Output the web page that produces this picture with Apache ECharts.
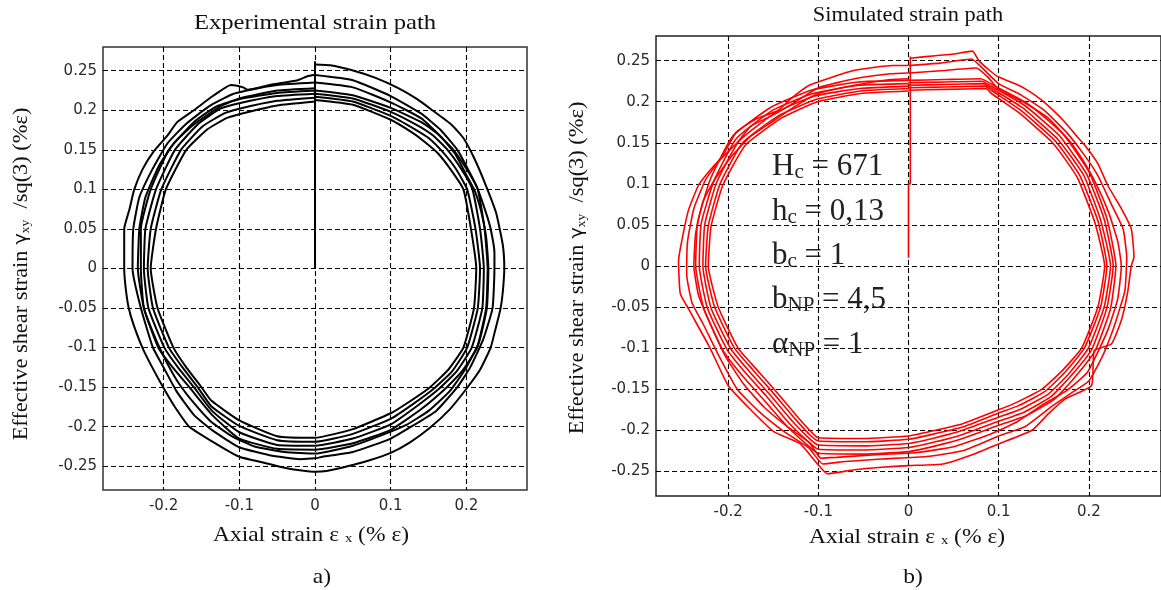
<!DOCTYPE html>
<html>
<head>
<meta charset="utf-8">
<script src="https://cdn.jsdelivr.net/npm/echarts@6/dist/echarts.min.js"></script>
<style>
  html, body { margin: 0; padding: 0; background: #fff; }
  #chart { width: 1161px; height: 590px; }
</style>
</head>
<body>
<div id="chart"></div>
<script>
// tick values (both panels)
const xTicks = [-0.2, -0.1, 0, 0.1, 0.2]
const yTicks = [-0.25, -0.2, -0.15, -0.1, -0.05, 0, 0.05, 0.1, 0.15, 0.2, 0.25]

// a) experimental strain path (x = axial, y = shear)
const expStem = [[0, 0], [0, 0.262]]
const expLoop1 = [[0,0.258],[0.02,0.257],[0.048,0.251],[0.08,0.241],[0.11,0.228],[0.135,0.214],[0.155,0.2],[0.18,0.182],[0.196,0.165],[0.21,0.14],[0.224,0.109],[0.239,0.071],[0.248,0.03],[0.25,0],[0.248,-0.03],[0.245,-0.051],[0.238,-0.078],[0.232,-0.1],[0.218,-0.128],[0.2,-0.152],[0.178,-0.178],[0.151,-0.202],[0.125,-0.22],[0.1,-0.233],[0.07,-0.243],[0.043,-0.25],[0.015,-0.256],[0,-0.257],[-0.02,-0.255],[-0.037,-0.2525],[-0.07,-0.245],[-0.1,-0.238],[-0.13,-0.222],[-0.166,-0.2],[-0.185,-0.175],[-0.2,-0.151],[-0.215,-0.125],[-0.228,-0.1],[-0.24,-0.07],[-0.246,-0.05],[-0.25,-0.025],[-0.252,0],[-0.252,0.05],[-0.245,0.075],[-0.239,0.099],[-0.228,0.125],[-0.213,0.148],[-0.195,0.168],[-0.182,0.185],[-0.16,0.2],[-0.135,0.218],[-0.111,0.232],[-0.095,0.229],[-0.089,0.226],[-0.06,0.232],[-0.023,0.238],[-0.01,0.243],[0,0.245]]
const expLoop2 = [[0,0.2445],[0.05,0.238],[0.1,0.218],[0.14,0.196],[0.165,0.176],[0.188,0.15],[0.205,0.12],[0.215,0.1],[0.226,0.07],[0.232,0.05],[0.237,0.02],[0.237,0],[0.2345,-0.05],[0.222,-0.09],[0.205,-0.125],[0.188,-0.15],[0.16,-0.18],[0.127,-0.2],[0.1,-0.215],[0.05,-0.232],[0.01,-0.238],[0,-0.24],[-0.02,-0.241],[-0.06,-0.236],[-0.1,-0.226],[-0.135,-0.205],[-0.16,-0.185],[-0.183,-0.155],[-0.2,-0.125],[-0.214,-0.1],[-0.23,-0.05],[-0.241,0],[-0.24,0.05],[-0.232,0.09],[-0.215,0.125],[-0.195,0.158],[-0.17,0.183],[-0.14,0.205],[-0.11,0.22],[-0.09,0.225],[-0.05,0.232],[0,0.235]]
const expLoop3 = [[0,0.235],[0.05,0.229],[0.1,0.21],[0.14,0.19],[0.165,0.168],[0.185,0.145],[0.2,0.118],[0.211,0.098],[0.22,0.07],[0.226,0.04],[0.229,0],[0.227,-0.05],[0.216,-0.095],[0.198,-0.128],[0.178,-0.155],[0.15,-0.18],[0.12,-0.198],[0.09,-0.21],[0.05,-0.224],[0,-0.234],[-0.04,-0.232],[-0.08,-0.225],[-0.11,-0.212],[-0.138,-0.193],[-0.16,-0.17],[-0.18,-0.145],[-0.195,-0.12],[-0.21,-0.09],[-0.226,-0.05],[-0.234,0],[-0.232,0.05],[-0.224,0.09],[-0.206,0.13],[-0.185,0.16],[-0.16,0.182],[-0.125,0.205],[-0.1,0.215],[-0.05,0.225],[0,0.228]]
const expLoop4 = [[0,0.225],[0.05,0.219],[0.1,0.203],[0.142,0.184],[0.162,0.17],[0.182,0.151],[0.2,0.126],[0.215,0.1],[0.224,0.05],[0.228,0],[0.226,-0.05],[0.214,-0.1],[0.194,-0.13],[0.172,-0.152],[0.14,-0.178],[0.1,-0.204],[0.05,-0.221],[0,-0.229],[-0.05,-0.228],[-0.1,-0.215],[-0.135,-0.186],[-0.166,-0.15],[-0.188,-0.125],[-0.207,-0.1],[-0.226,-0.05],[-0.23,0],[-0.23,0.05],[-0.217,0.1],[-0.193,0.15],[-0.16,0.185],[-0.13,0.205],[-0.1,0.214],[-0.05,0.222],[0,0.225]]
const expLoop5 = [[0,0.221],[0.05,0.215],[0.1,0.198],[0.137,0.18],[0.156,0.168],[0.175,0.15],[0.193,0.126],[0.208,0.1],[0.218,0.05],[0.223,0],[0.221,-0.05],[0.207,-0.1],[0.187,-0.13],[0.165,-0.151],[0.133,-0.175],[0.1,-0.197],[0.05,-0.215],[0,-0.224],[-0.05,-0.223],[-0.1,-0.207],[-0.136,-0.18],[-0.16,-0.15],[-0.181,-0.125],[-0.199,-0.1],[-0.22,-0.05],[-0.226,0],[-0.224,0.05],[-0.21,0.1],[-0.185,0.15],[-0.154,0.183],[-0.125,0.202],[-0.1,0.209],[-0.05,0.218],[0,0.221]]
const expLoop6 = [[0,0.217],[0.05,0.211],[0.1,0.193],[0.132,0.176],[0.15,0.165],[0.168,0.148],[0.186,0.126],[0.201,0.1],[0.212,0.05],[0.218,0],[0.215,-0.05],[0.201,-0.1],[0.181,-0.13],[0.158,-0.151],[0.127,-0.173],[0.1,-0.19],[0.05,-0.209],[0,-0.219],[-0.05,-0.217],[-0.1,-0.199],[-0.137,-0.174],[-0.155,-0.15],[-0.175,-0.125],[-0.193,-0.1],[-0.214,-0.05],[-0.221,0],[-0.217,0.05],[-0.203,0.1],[-0.177,0.15],[-0.148,0.18],[-0.12,0.196],[-0.1,0.202],[-0.05,0.212],[0,0.216]]
const expLoop7 = [[0,0.213],[0.05,0.207],[0.1,0.188],[0.128,0.172],[0.145,0.16],[0.162,0.146],[0.18,0.124],[0.196,0.1],[0.206,0.05],[0.213,0],[0.21,-0.05],[0.196,-0.1],[0.176,-0.128],[0.152,-0.15],[0.122,-0.17],[0.1,-0.183],[0.05,-0.203],[0,-0.214],[-0.05,-0.212],[-0.1,-0.192],[-0.137,-0.167],[-0.15,-0.15],[-0.17,-0.125],[-0.187,-0.1],[-0.208,-0.05],[-0.217,0],[-0.21,0.05],[-0.197,0.1],[-0.17,0.15],[-0.142,0.176],[-0.117,0.19],[-0.1,0.195],[-0.05,0.206],[0,0.211]]

// b) simulated strain path
const simStem = [[0, 0.01], [0, 0.1], [0.002, 0.1], [0.002, 0.255]]
const simLoop1 = [[0.002,0.253],[0.03,0.256],[0.05,0.258],[0.071,0.2616],[0.078,0.25],[0.09,0.238],[0.1,0.23],[0.122,0.22],[0.135,0.212],[0.148,0.2016],[0.16,0.19],[0.1735,0.175],[0.185,0.16],[0.1955,0.147],[0.21,0.1246],[0.221,0.098],[0.235,0.072],[0.247,0.0455],[0.25,0.011],[0.247,0],[0.243,-0.032],[0.236,-0.066],[0.225,-0.095],[0.206,-0.103],[0.203,-0.1455],[0.1735,-0.162],[0.155,-0.18],[0.137,-0.2],[0.1,-0.2166],[0.07,-0.23],[0.038,-0.241],[0,-0.243],[-0.03,-0.245],[-0.06,-0.248],[-0.09,-0.253],[-0.101,-0.241],[-0.12,-0.2165],[-0.149,-0.202],[-0.175,-0.175],[-0.2,-0.1455],[-0.22,-0.1],[-0.235,-0.07],[-0.244,-0.052],[-0.253,-0.034],[-0.255,0.0045],[-0.253,0.0215],[-0.244,0.068],[-0.233,0.098],[-0.222,0.114],[-0.2056,0.135],[-0.191,0.163],[-0.169,0.179],[-0.145,0.189],[-0.13,0.204],[-0.11,0.22],[-0.061,0.238],[-0.017,0.244],[0,0.244]]
const simLoop2 = [[0,0.244],[0.035,0.247],[0.07,0.252],[0.08,0.243],[0.1,0.222],[0.125,0.208],[0.15,0.19],[0.175,0.163],[0.195,0.135],[0.21,0.11],[0.225,0.075],[0.238,0.045],[0.242,0.01],[0.24,-0.03],[0.232,-0.06],[0.226,-0.08],[0.215,-0.11],[0.2,-0.14],[0.18,-0.155],[0.16,-0.17],[0.13,-0.195],[0.1,-0.207],[0.06,-0.225],[0.02,-0.232],[-0.03,-0.235],[-0.07,-0.238],[-0.095,-0.241],[-0.11,-0.222],[-0.14,-0.2],[-0.165,-0.178],[-0.19,-0.15],[-0.21,-0.11],[-0.228,-0.07],[-0.24,-0.045],[-0.246,-0.01],[-0.245,0.03],[-0.238,0.07],[-0.225,0.105],[-0.21,0.128],[-0.19,0.15],[-0.175,0.17],[-0.15,0.184],[-0.125,0.2],[-0.1,0.217],[-0.06,0.228],[-0.02,0.234],[0,0.235]]
const simLoop3 = [[0,0.235],[0.04,0.238],[0.075,0.241],[0.088,0.23],[0.1,0.215],[0.13,0.198],[0.155,0.18],[0.178,0.153],[0.195,0.126],[0.208,0.1],[0.222,0.065],[0.232,0.03],[0.236,0],[0.232,-0.04],[0.222,-0.075],[0.212,-0.1],[0.198,-0.13],[0.175,-0.152],[0.15,-0.168],[0.12,-0.19],[0.09,-0.205],[0.05,-0.22],[0.01,-0.227],[-0.04,-0.23],[-0.08,-0.233],[-0.097,-0.234],[-0.11,-0.215],[-0.135,-0.195],[-0.16,-0.172],[-0.182,-0.145],[-0.203,-0.11],[-0.22,-0.07],[-0.233,-0.035],[-0.238,0],[-0.236,0.04],[-0.228,0.078],[-0.215,0.105],[-0.195,0.135],[-0.175,0.158],[-0.152,0.175],[-0.125,0.195],[-0.1,0.21],[-0.06,0.22],[-0.02,0.227],[0,0.228]]
const simLoop4 = [[0,0.226],[0.04,0.227],[0.08,0.228],[0.096,0.219],[0.13,0.199],[0.151,0.181],[0.171,0.161],[0.187,0.137],[0.201,0.113],[0.22,0.058],[0.23,0],[0.224,-0.052],[0.207,-0.103],[0.184,-0.136],[0.162,-0.162],[0.131,-0.182],[0.1,-0.194],[0.06,-0.21],[0.03,-0.219],[0,-0.226],[-0.05,-0.229],[-0.1,-0.228],[-0.112,-0.218],[-0.134,-0.196],[-0.162,-0.161],[-0.184,-0.134],[-0.205,-0.104],[-0.227,-0.052],[-0.236,0],[-0.234,0.052],[-0.22,0.105],[-0.195,0.158],[-0.153,0.193],[-0.108,0.214],[-0.056,0.224],[0,0.226]]
const simLoop5 = [[0,0.223],[0.04,0.224],[0.081,0.225],[0.095,0.217],[0.128,0.196],[0.148,0.178],[0.168,0.158],[0.184,0.134],[0.198,0.111],[0.217,0.057],[0.227,0],[0.22,-0.051],[0.203,-0.102],[0.18,-0.134],[0.158,-0.159],[0.128,-0.178],[0.1,-0.189],[0.06,-0.205],[0.03,-0.214],[0,-0.221],[-0.05,-0.224],[-0.1,-0.223],[-0.11,-0.215],[-0.131,-0.193],[-0.158,-0.158],[-0.18,-0.131],[-0.201,-0.102],[-0.223,-0.051],[-0.232,0],[-0.23,0.051],[-0.216,0.103],[-0.191,0.155],[-0.15,0.19],[-0.106,0.21],[-0.055,0.22],[0,0.222]]
const simLoop6 = [[0,0.22],[0.04,0.221],[0.083,0.222],[0.094,0.215],[0.126,0.193],[0.145,0.175],[0.165,0.155],[0.181,0.132],[0.195,0.109],[0.213,0.056],[0.224,0],[0.217,-0.05],[0.199,-0.101],[0.177,-0.132],[0.155,-0.156],[0.125,-0.174],[0.1,-0.184],[0.06,-0.2],[0.03,-0.209],[0,-0.216],[-0.05,-0.219],[-0.1,-0.218],[-0.109,-0.211],[-0.128,-0.19],[-0.155,-0.155],[-0.176,-0.129],[-0.197,-0.101],[-0.219,-0.051],[-0.228,0],[-0.226,0.05],[-0.213,0.101],[-0.188,0.152],[-0.147,0.187],[-0.104,0.207],[-0.054,0.216],[0,0.219]]
const simLoop7 = [[0,0.217],[0.04,0.218],[0.085,0.219],[0.093,0.213],[0.124,0.19],[0.142,0.173],[0.162,0.153],[0.178,0.13],[0.191,0.108],[0.21,0.055],[0.22,0],[0.213,-0.05],[0.195,-0.1],[0.173,-0.13],[0.151,-0.153],[0.122,-0.17],[0.1,-0.179],[0.06,-0.196],[0.03,-0.204],[0,-0.211],[-0.05,-0.214],[-0.1,-0.213],[-0.108,-0.207],[-0.125,-0.187],[-0.152,-0.152],[-0.173,-0.126],[-0.193,-0.1],[-0.215,-0.05],[-0.225,0],[-0.222,0.049],[-0.209,0.1],[-0.184,0.15],[-0.144,0.183],[-0.102,0.203],[-0.053,0.213],[0,0.216]]
const simLoop8 = [[0,0.214],[0.04,0.215],[0.086,0.216],[0.092,0.21],[0.122,0.187],[0.14,0.17],[0.159,0.151],[0.175,0.128],[0.188,0.106],[0.2065,0.0535],[0.2175,0],[0.21,-0.05],[0.192,-0.1],[0.17,-0.128],[0.148,-0.15],[0.12,-0.166],[0.1,-0.175],[0.06,-0.192],[0.03,-0.2],[0,-0.207],[-0.05,-0.21],[-0.1,-0.209],[-0.106,-0.204],[-0.122,-0.185],[-0.149,-0.15],[-0.17,-0.124],[-0.189,-0.1],[-0.211,-0.05],[-0.222,0],[-0.219,0.048],[-0.206,0.098],[-0.181,0.147],[-0.141,0.18],[-0.101,0.2],[-0.053,0.21],[0,0.213]]

const expPaths = [expStem, expLoop1, expLoop2, expLoop3, expLoop4, expLoop5, expLoop6, expLoop7]
const simPaths = [simStem, simLoop1, simLoop2, simLoop3, simLoop4, simLoop5, simLoop6, simLoop7, simLoop8]

const serif = 'Liberation Serif'
const tickFont = { fontFamily: 'DejaVu Sans', fontSize: 15, color: '#2a2a2a' }
const gridDash = { color: '#000', type: [5, 3], width: 1.1 }

const xAxisOf = gi => ({
  type: 'value', gridIndex: gi, min: -0.28, max: 0.28,
  axisLine: { show: false },
  axisTick: { show: false, customValues: xTicks },
  axisLabel: { ...tickFont, margin: 9, customValues: xTicks },
  splitLine: { show: true, lineStyle: gridDash }
})
const yAxisOf = gi => ({
  type: 'value', gridIndex: gi, min: -0.28, max: 0.28,
  axisLine: { show: false },
  axisTick: { show: false, customValues: yTicks },
  axisLabel: { ...tickFont, margin: 6, customValues: yTicks },
  splitLine: { show: true, lineStyle: gridDash }
})

const lineSeries = (path, gi, color, width) => ({
  type: 'line', xAxisIndex: gi, yAxisIndex: gi, data: path,
  showSymbol: false, smooth: 0.15, animation: false, silent: true,
  lineStyle: { color: color, width: width }
})

const txt = (x, y, text, size, extra) => ({
  type: 'text', x: x, y: y, scaleX: 1.12, silent: true,
  style: Object.assign({ text: text, fontFamily: serif, fontSize: size, fill: '#111',
    align: 'center', verticalAlign: 'middle' }, extra || {})
})

const subRich = size => ({
  m: { fontFamily: serif, fontSize: size, fill: '#111' },
  g: { fontFamily: 'DejaVu Sans', fontSize: size - 3, fill: '#111' },
  s: { fontFamily: serif, fontSize: Math.round(size * 0.62), fill: '#111', verticalAlign: 'bottom' }
})

const yName = '{m|Effective shear strain}{g| γ}{s|xy}{m|  /sq(3) (%ε)}'
const xName = '{m|Axial strain ε }{s|x}{m| (% ε)}'

const paramLine = (y, text) => ({
  type: 'text', x: 772, y: y, silent: true,
  style: { text: text, align: 'left', verticalAlign: 'middle',
    rich: {
      m: { fontFamily: serif, fontSize: 31, fill: '#222' },
      s: { fontFamily: serif, fontSize: 21, fill: '#222', verticalAlign: 'bottom' }
    } }
})

const chart = echarts.init(document.getElementById('chart'))
chart.setOption({
  backgroundColor: '#fff',
  animation: false,
  grid: [
    { left: 103, top: 47, width: 424, height: 443, show: true, borderColor: '#333', borderWidth: 1.5, backgroundColor: 'transparent' },
    { left: 656, top: 36, width: 510, height: 460, show: true, borderColor: '#222', borderWidth: 1.5, backgroundColor: 'transparent' }
  ],
  xAxis: [xAxisOf(0), xAxisOf(1)],
  yAxis: [yAxisOf(0), yAxisOf(1)],
  series: [
    ...expPaths.map(p => lineSeries(p, 0, '#000', 2)),
    ...simPaths.map(p => lineSeries(p, 1, '#ff0000', 1.6))
  ],
  graphic: [
    txt(315, 23, 'Experimental strain path', 22),
    txt(908, 16, 'Simulated strain path', 20),
    Object.assign(txt(22, 274, yName, 20, { rich: subRich(20) }), { rotation: Math.PI / 2 }),
    Object.assign(txt(578, 268, yName, 20, { rich: subRich(20) }), { rotation: Math.PI / 2 }),
    txt(311, 535, xName, 21, { rich: subRich(21) }),
    txt(907, 537, xName, 21, { rich: subRich(21) }),
    txt(322, 577, 'a)', 21),
    txt(913, 577, 'b)', 21),
    paramLine(167, '{m|H}{s|c}{m| = 671}'),
    paramLine(212, '{m|h}{s|c}{m| = 0,13}'),
    paramLine(256, '{m|b}{s|c}{m| = 1}'),
    paramLine(300, '{m|b}{s|NP}{m| = 4,5}'),
    paramLine(345, '{m|α}{s|NP}{m| = 1}')
  ]
})
</script>
</body>
</html>
